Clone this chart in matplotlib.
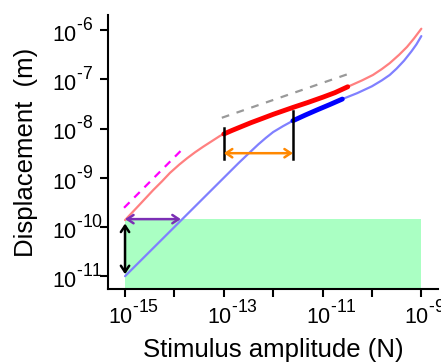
import numpy as np
import matplotlib
matplotlib.use("Agg")
import matplotlib.pyplot as plt
from matplotlib.ticker import FixedLocator, FixedFormatter
from matplotlib.transforms import ScaledTranslation

try:
    import matplotlib._mathtext as _mt
    _mt.SHRINK_FACTOR = 0.82
    _mt.FontConstantsBase.sup1 = 0.95
except Exception:
    pass

plt.rcParams['font.family'] = ['Liberation Sans', 'DejaVu Sans']
plt.rcParams['mathtext.fontset'] = 'custom'
plt.rcParams['mathtext.rm'] = 'Liberation Sans'
plt.rcParams['mathtext.it'] = 'Liberation Sans:italic'
plt.rcParams['mathtext.bf'] = 'Liberation Sans:bold'

# ---- data (log10 values) ----
red_lx = [-15.0, -14.7, -14.43, -14.25, -14.09, -13.9, -13.74, -13.58, -13.42, -13.25,
          -13.08, -13.0, -12.84, -12.67, -12.45, -12.21, -12.0, -11.8, -11.6, -11.3,
          -10.99, -10.75, -10.49, -10.2, -9.98, -9.8, -9.64, -9.45, -9.29, -9.15, -9.0]
red_ly = [-9.86, -9.54, -9.25, -9.07, -8.90, -8.73, -8.60, -8.48, -8.37, -8.26,
          -8.15, -8.11, -8.04, -7.97, -7.88, -7.79, -7.71, -7.64, -7.57, -7.47,
          -7.36, -7.27, -7.15, -7.02, -6.91, -6.79, -6.67, -6.50, -6.34, -6.17, -5.97]
red_thick_range = (-13.0, -10.49)

blue_lx = [-15.0, -14.0, -13.0, -12.7, -12.47, -12.3, -12.15, -12.0, -11.8, -11.6,
           -11.35, -11.11, -10.85, -10.6, -10.3, -10.0, -9.8, -9.64, -9.5, -9.35,
           -9.2, -9.1, -9.0]
blue_ly = [-11.0, -10.0, -9.0, -8.70, -8.48, -8.32, -8.19, -8.07, -7.95, -7.84,
           -7.725, -7.62, -7.51, -7.40, -7.28, -7.14, -7.02, -6.91, -6.78, -6.62,
           -6.43, -6.29, -6.12]
blue_thick_range = (-11.6, -10.6)

magenta_lx = [-15.02, -13.83]
magenta_ly = [-9.61, -8.41]
gray_lx = [-13.04, -10.51]
gray_ly = [-7.78, -6.90]

bar1_lx, bar1_ly = -13.0, (-7.98, -8.61)
bar2_lx, bar2_ly = -11.6, (-7.65, -8.61)

orange_ly, orange_lx = -8.50, (-13.0, -11.6)
purple_ly, purple_lx = -9.84, (-15.0, -13.87)
black_lx, black_ly = -15.0, (-9.93, -10.96)

green_lx = (-15.0, -9.0)
green_top_ly = -9.84

HY = '\u2010'
x_ticks = [-15, -14, -13, -12, -11, -10, -9]
x_exps = ['15', None, '13', None, '11', None, '9']
x_labels = ['' if e is None else '$\\mathregular{10^{%s%s}}$' % (HY, e) for e in x_exps]
y_ticks = [-11, -10, -9, -8, -7, -6]
y_labels = ['$\\mathregular{10^{%s%d}}$' % (HY, -v) for v in y_ticks]

xlim_l = (-15.344, -8.664)
ylim_l = (-11.26, -5.69)

P = lambda v: 10.0 ** np.asarray(v, dtype=float)

fig = plt.figure(figsize=(4.41, 3.62), dpi=100)
ax = fig.add_axes([0.245, 0.2017, 0.748, 0.757])
ax.set_xscale('log')
ax.set_yscale('log')
ax.set_xlim(P(xlim_l[0]), P(xlim_l[1]))
ax.set_ylim(P(ylim_l[0]), P(ylim_l[1]))

# green region
ax.fill_between(P(list(green_lx)), P(ylim_l[0]), P(green_top_ly),
                color='#aaffc3', lw=0, zorder=1)

# light curves
ax.plot(P(red_lx), P(red_ly), color='#ff8080', lw=1.6, zorder=3,
        solid_capstyle='round', solid_joinstyle='round')
ax.plot(P(blue_lx), P(blue_ly), color='#8080ff', lw=1.6, zorder=3,
        solid_capstyle='round', solid_joinstyle='round')

# thick segments
rlx = np.array(red_lx); rly = np.array(red_ly)
m = (rlx >= red_thick_range[0] - 1e-9) & (rlx <= red_thick_range[1] + 1e-9)
ax.plot(P(rlx[m]), P(rly[m]), color='#ff0000', lw=3.5, zorder=4,
        solid_capstyle='round', solid_joinstyle='round')
blx = np.array(blue_lx); bly = np.array(blue_ly)
m = (blx >= blue_thick_range[0] - 1e-9) & (blx <= blue_thick_range[1] + 1e-9)
ax.plot(P(blx[m]), P(bly[m]), color='#0000ff', lw=3.5, zorder=4,
        solid_capstyle='round', solid_joinstyle='round')

# dashed guides
ax.plot(P(magenta_lx), P(magenta_ly), color='#ff00ff', lw=1.6, dashes=(3.5, 3), zorder=3)
ax.plot(P(gray_lx), P(gray_ly), color='#999999', lw=1.6, dashes=(3.5, 3.5), zorder=3)

# black bars
ax.plot(P([bar1_lx, bar1_lx]), P(list(bar1_ly)), color='black', lw=1.8, zorder=5)
ax.plot(P([bar2_lx, bar2_lx]), P(list(bar2_ly)), color='black', lw=1.8, zorder=5)

def dbl_arrow(p0, p1, color):
    ax.annotate('', xy=p1, xytext=p0,
                arrowprops=dict(arrowstyle='<->,head_length=0.45,head_width=0.3',
                                color=color, lw=1.8, shrinkA=0, shrinkB=0),
                zorder=6)

dbl_arrow((P(orange_lx[0]), P(orange_ly)), (P(orange_lx[1]), P(orange_ly)), '#ff8800')
dbl_arrow((P(purple_lx[0]), P(purple_ly)), (P(purple_lx[1]), P(purple_ly)), '#7b2fb5')
dbl_arrow((P(black_lx), P(black_ly[0])), (P(black_lx), P(black_ly[1])), 'black')

# axes styling
for s in ['top', 'right']:
    ax.spines[s].set_visible(False)
for s in ['left', 'bottom']:
    ax.spines[s].set_linewidth(1.5)
ax.xaxis.set_major_locator(FixedLocator(P(x_ticks)))
ax.xaxis.set_major_formatter(FixedFormatter(x_labels))
ax.yaxis.set_major_locator(FixedLocator(P(y_ticks)))
ax.yaxis.set_major_formatter(FixedFormatter(y_labels))
ax.xaxis.set_minor_locator(FixedLocator([]))
ax.yaxis.set_minor_locator(FixedLocator([]))
ax.tick_params(which='major', direction='out', length=6, width=1.5, labelsize=15.5)
ax.tick_params(axis='x', pad=2)
# y tick labels are left-aligned with their left edges at a common x
ax.tick_params(axis='y', pad=34.5)

for lab in ax.get_yticklabels():
    lab.set_horizontalalignment('left')
xoff = ScaledTranslation(-17 / 100.0, 0, fig.dpi_scale_trans)
for lab in ax.get_xticklabels():
    lab.set_horizontalalignment('left')
    lab.set_transform(lab.get_transform() + xoff)

ax.set_xlabel('Stimulus amplitude (N)', fontsize=18.5)
ax.set_ylabel('Displacement  (m)', fontsize=18.5)
ax.xaxis.set_label_coords(0.5, -0.18)
ax.yaxis.set_label_coords(-0.213, 0.5)

fig.savefig('out.png', dpi=100)
